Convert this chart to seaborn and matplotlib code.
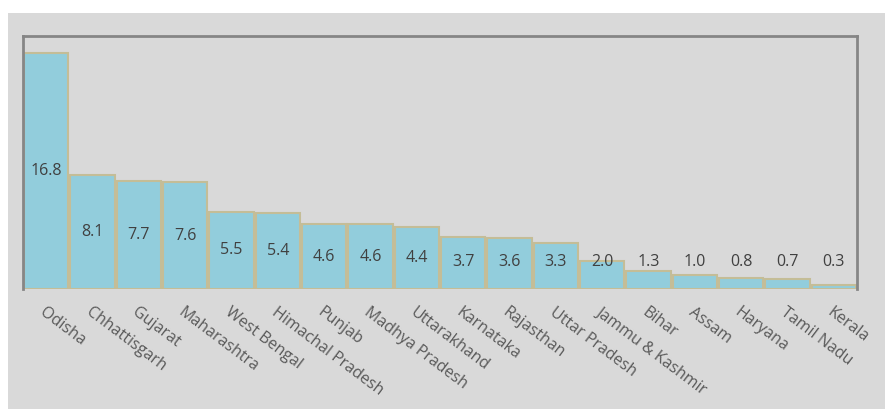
import matplotlib
matplotlib.use("Agg")
import matplotlib.pyplot as plt
import seaborn as sns
import pandas as pd
from matplotlib.patches import Rectangle

states = ["Odisha", "Chhattisgarh", "Gujarat", "Maharashtra", "West Bengal",
          "Himachal Pradesh", "Punjab", "Madhya Pradesh", "Uttarakhand",
          "Karnataka", "Rajasthan", "Uttar Pradesh", "Jammu & Kashmir",
          "Bihar", "Assam", "Haryana", "Tamil Nadu", "Kerala"]
values = [16.8, 8.1, 7.7, 7.6, 5.5, 5.4, 4.6, 4.6, 4.4, 3.7, 3.6, 3.3,
          2.0, 1.3, 1.0, 0.8, 0.7, 0.3]

df = pd.DataFrame({"state": states, "value": values})

sns.set_theme(style="white")
plt.rcParams['font.family'] = ['Open Sans', 'DejaVu Sans']

W, H = 885, 409
fig = plt.figure(figsize=(W / 100, H / 100), dpi=100, facecolor="white")
bg = "#d9d9d9"
rect = Rectangle((8 / W, 0), 1 - 8 / W, 1 - 13 / H,
                 transform=fig.transFigure, facecolor=bg,
                 edgecolor="none", zorder=-10)
fig.add_artist(rect)

ax = fig.add_axes([23 / W, 1 - 289 / H, (857 - 23) / W, (289 - 36) / H])
ax.set_zorder(5)
ax.set_facecolor(bg)

sns.barplot(data=df, x="state", y="value", ax=ax, color="#92cddc",
            saturation=1, width=0.95, edgecolor="#c4bd97", linewidth=1.5)

ax.set_ylim(0, 18)
ax.set_xlim(-0.5, len(states) - 0.5)
ax.set_yticks([])
ax.set_xlabel("")
ax.set_ylabel("")

for side in ["left", "top", "right"]:
    ax.spines[side].set_visible(True)
    ax.spines[side].set_color("#868686")
    ax.spines[side].set_linewidth(2)
ax.spines["bottom"].set_visible(False)

for i, v in enumerate(values):
    ypos = max(v / 2, 1.9)
    ax.text(i, ypos, f"{v:.1f}", ha="center", va="center",
            fontsize=11.5, color="#404040")

ax.set_xticks(range(len(states)))
ax.set_xticklabels(states, rotation=-37, ha="left", va="top",
                   rotation_mode="anchor", fontsize=11.5, color="#5a5a5a")
ax.tick_params(axis="x", length=0, pad=11)

fig.savefig("out.png", dpi=100, facecolor="white")
